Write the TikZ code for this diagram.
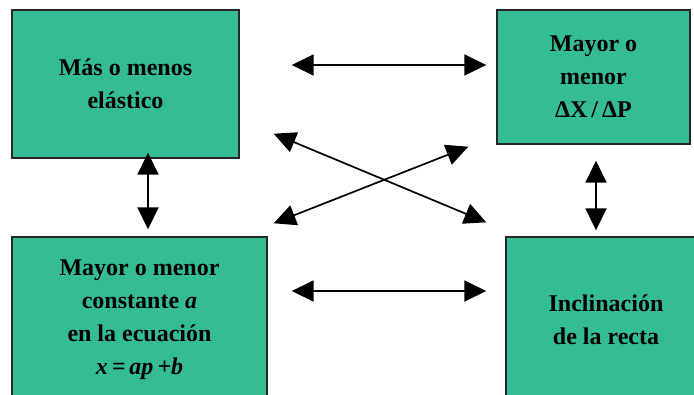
\documentclass[tikz,border=0pt]{standalone}
\usepackage{fontspec}
\setmainfont{Liberation Serif}
\usetikzlibrary{arrows.meta}
\definecolor{boxgreen}{RGB}{52,189,148}
\tikzstyle{box}   = [draw=black!85, line width=1.4pt, fill=boxgreen, align=center, font=\bfseries\fontsize{24}{33}\selectfont, inner sep=0pt]
\tikzstyle{dbl}   = [line width=1.7pt, {Triangle[length=22pt,width=21pt]}-{Triangle[length=22pt,width=21pt]}]

\begin{document}
\begin{tikzpicture}[x=1pt,y=-1pt]
	\useasboundingbox (0,0) rectangle (694,394);
	\clip (0,0) rectangle (694,394);

	% boxes
	\node[box, minimum width=227, minimum height=148] (elast) at (125.5,84) {Más o menos\\elástico};
	\node[box, minimum width=193, minimum height=134] (delta) at (593.5,77) {Mayor o\\menor\\ΔX\,/\,ΔP};
	\node[box, minimum width=255, minimum height=165] (const) at (139.5,319.5) {Mayor o menor\\constante \textit{a}\\en la ecuación\\\textit{x\,=\,ap\,+b}};
	\node[box, minimum width=200, minimum height=165] (incl) at (606,319.5) {Inclinación\\de la recta};

	% connectors
	\draw[dbl] ([xshift=52,yshift=19]elast.east) -- ([xshift=-10,yshift=12]delta.west);
	\draw[dbl] ([xshift=24,yshift=28.5]const.east) -- ([xshift=-19,yshift=28.5]incl.west);
	\draw[dbl] ([xshift=22.5,yshift=6]elast.south) -- ([xshift=8.5,yshift=7]const.north);
	\draw[dbl] ([xshift=2.5,yshift=-16]delta.south) -- ([xshift=-10,yshift=6]incl.north);
	\draw[dbl] ([xshift=34,yshift=25]elast.south east) -- ([xshift=-19,yshift=14]incl.north west);
	\draw[dbl] ([xshift=6,yshift=13]const.north east) -- ([xshift=-28,yshift=-2]delta.south west);
\end{tikzpicture}
\end{document}
